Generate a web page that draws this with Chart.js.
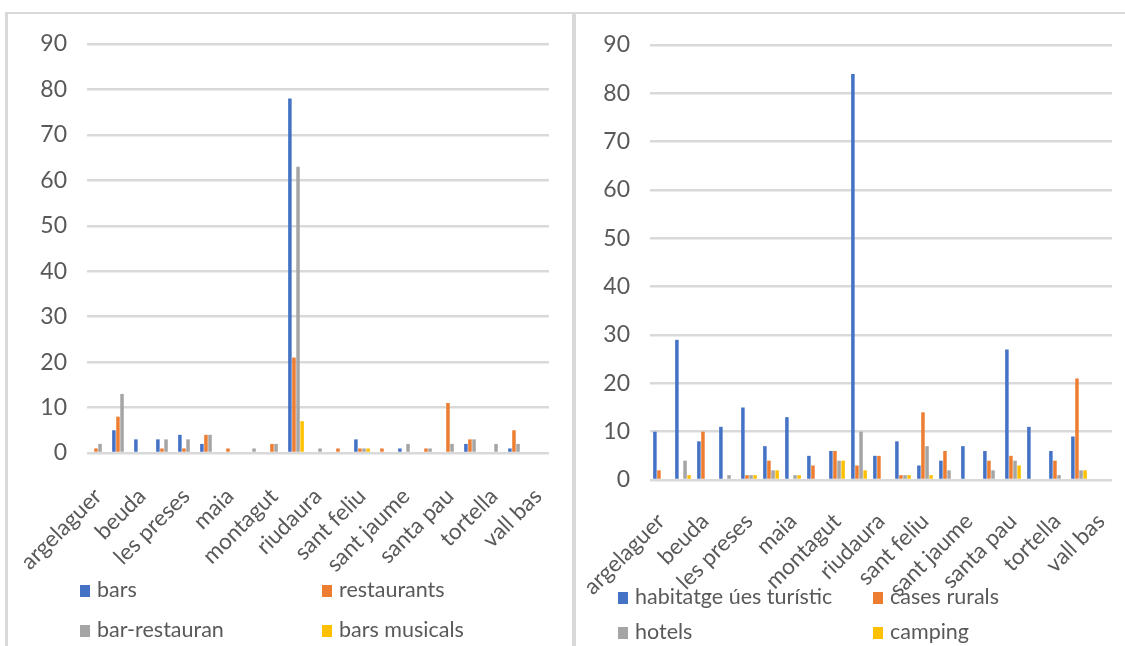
<!DOCTYPE html>
<html>
<head>
<meta charset="utf-8">
<script src="https://cdn.jsdelivr.net/npm/chart.js@4.4.0/dist/chart.umd.min.js"></script>
<style>
  body { margin: 0; background: #fff; width: 1125px; height: 646px; overflow: hidden; position: relative; font-family: Lato, "Noto Sans", sans-serif; }
  .line { position: absolute; background: #d9d9d9; }
  canvas { position: absolute; top: 0; }
  .leg { position: absolute; color: #595959; font-size: 21.5px; line-height: 22px; white-space: nowrap; }
  .leg span { display: inline-block; width: 10px; height: 12px; margin-right: 7px; vertical-align: 0px; }
</style>
</head>
<body>
<div class="line" style="left:5px;top:12px;width:1120px;height:2px"></div>
<div class="line" style="left:5px;top:12px;width:3px;height:634px"></div>
<div class="line" style="left:572px;top:12px;width:4px;height:634px"></div>
<canvas id="left" width="572" height="646" style="left:0"></canvas>
<canvas id="right" width="548" height="646" style="left:577px"></canvas>
<div id="legends"></div>
<script>
var municipis = ['argelaguer', 'besalú', 'beuda', 'castellfollit', 'les preses', 'les planes', 'maia', 'mieres',
  'montagut', 'olot', 'riudaura', 'sales', 'sant feliu', 'sant ferriol', 'sant jaume', 'sant joan',
  'santa pau', 'sant aniol', 'tortella', 'vall de bianya', 'vall bas'];
var yTicks = [0, 10, 20, 30, 40, 50, 60, 70, 80, 90];

// restauracio
var bars = [0, 5, 3, 3, 4, 2, 0, 0, 0, 78, 0, 0, 3, 0, 1, 0, 0, 2, 0, 1, 0];
var restaurants = [1, 8, 0, 1, 1, 4, 1, 0, 2, 21, 0, 1, 1, 1, 0, 1, 11, 3, 0, 5, 0];
var barRestauran = [2, 13, 0, 3, 3, 4, 0, 1, 2, 63, 1, 0, 1, 0, 2, 1, 2, 3, 2, 2, 0];
var barsMusicals = [0, 0, 0, 0, 0, 0, 0, 0, 0, 7, 0, 0, 1, 0, 0, 0, 0, 0, 0, 0, 0];

// allotjament
var habitatge = [10, 29, 8, 11, 15, 7, 13, 5, 6, 84, 5, 8, 3, 4, 7, 6, 27, 11, 6, 9, 0];
var casesRurals = [2, 0, 10, 0, 1, 4, 0, 3, 6, 3, 5, 1, 14, 6, 0, 4, 5, 0, 4, 21, 0];
var hotels = [0, 4, 0, 1, 1, 2, 1, 0, 4, 10, 0, 1, 7, 2, 0, 2, 4, 0, 1, 2, 0];
var camping = [0, 1, 0, 0, 1, 2, 1, 0, 4, 2, 0, 1, 1, 0, 0, 0, 3, 0, 0, 2, 0];

var colors = ['#4472c4', '#ed7d31', '#a5a5a5', '#ffc000'];
var textColor = '#595959';
var fontName = 'Lato, "Noto Sans", sans-serif';

function makeDatasets(names, series) {
  var ds = [];
  for (var i = 0; i < names.length; i++) {
    ds.push({
      label: names[i],
      data: series[i],
      backgroundColor: colors[i],
      borderWidth: 0,
      categoryPercentage: 0.74,
      barPercentage: 0.86
    });
  }
  return ds;
}

function makeChart(id, datasets, pad, yWidth, xHeight, tickPad) {
  var ctx = document.getElementById(id).getContext('2d');
  return new Chart(ctx, {
    type: 'bar',
    data: { labels: municipis, datasets: datasets },
    options: {
      responsive: false,
      animation: false,
      devicePixelRatio: 1,
      layout: { padding: pad },
      plugins: { legend: { display: false }, tooltip: { enabled: false } },
      scales: {
        x: {
          grid: { display: false },
          border: { display: false },
          afterFit: function (scale) {
            scale.height = xHeight;
            // keep the plot width fixed, rotated labels can hang outside
            scale.paddingLeft = 0;
            scale.paddingRight = 0;
          },
          ticks: {
            autoSkip: false,
            minRotation: 45,
            maxRotation: 45,
            padding: tickPad,
            color: textColor,
            font: { family: fontName, size: 22.5 },
            callback: function (v, i) { return i % 2 == 0 ? municipis[i] : ''; }
          }
        },
        y: {
          min: 0,
          max: 90,
          afterFit: function (scale) { scale.width = yWidth; },
          afterBuildTicks: function (scale) { scale.ticks = yTicks.map(function (v) { return { value: v }; }); },
          grid: { color: '#d9d9d9', lineWidth: 2.5, drawTicks: false },
          border: { display: false },
          ticks: { padding: 20, color: textColor, font: { family: fontName, size: 23 } }
        }
      }
    }
  });
}

var leftChart = makeChart('left',
  makeDatasets(['bars', 'restaurants', 'bar-restauran', 'bars musicals'], [bars, restaurants, barRestauran, barsMusicals]),
  { top: 44, right: 23, left: 0, bottom: 0 }, 87, 646 - 453, 22);
var rightChart = makeChart('right',
  makeDatasets(['habitatge úes turístic', 'cases rurals', 'hotels', 'camping'], [habitatge, casesRurals, hotels, camping]),
  { top: 45, right: 13, left: 0, bottom: 0 }, 73, 646 - 480, 20);

function htmlLegend(chart, xs, ys) {
  var box = document.getElementById('legends');
  chart.data.datasets.forEach(function (d, i) {
    var el = document.createElement('div');
    el.className = 'leg';
    el.style.left = xs[i % 2] + 'px';
    el.style.top = ys[Math.floor(i / 2)] + 'px';
    el.innerHTML = '<span style="background:' + d.backgroundColor + '"></span>' + d.label;
    box.appendChild(el);
  });
}
htmlLegend(leftChart, [80, 322], [578, 618]);
htmlLegend(rightChart, [618, 873], [585, 620]);
</script>
</body>
</html>
